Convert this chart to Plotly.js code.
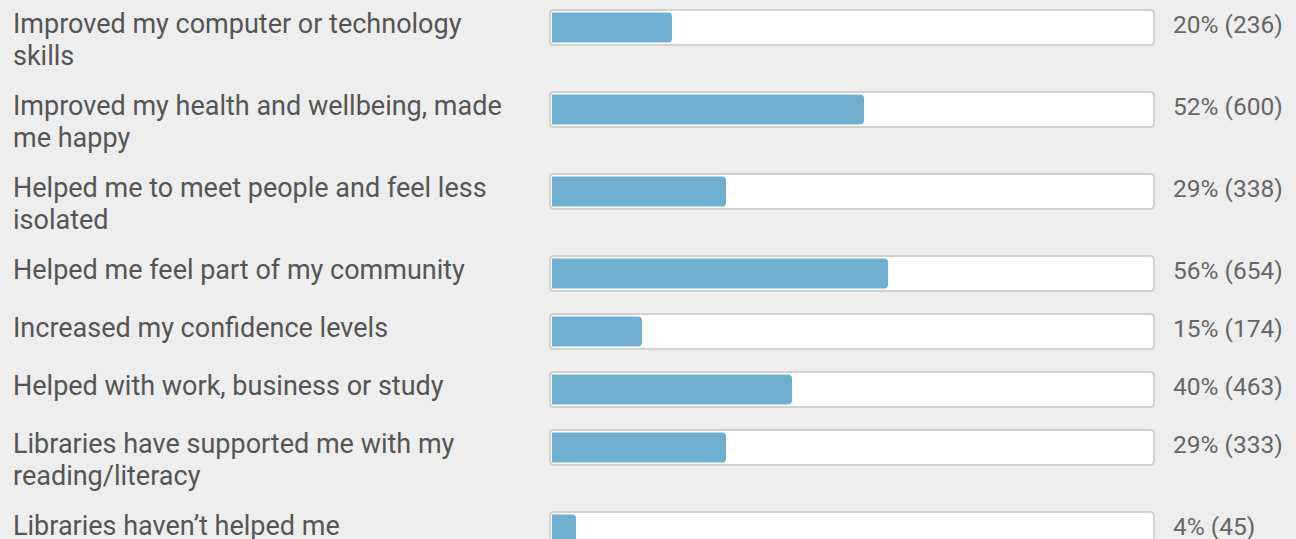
<!DOCTYPE html>
<html>
<head>
<meta charset="utf-8">
<script src="https://cdn.plot.ly/plotly-3.0.1.min.js"></script>
<style>
  html, body { margin: 0; padding: 0; background: #eeeeee; }
  #chart { width: 1296px; height: 539px; }
</style>
</head>
<body>
<div id="chart"></div>
<script>
// ---- data ----
const categories = [
  "Improved my computer or technology skills",
  "Improved my health and wellbeing, made me happy",
  "Helped me to meet people and feel less isolated",
  "Helped me feel part of my community",
  "Increased my confidence levels",
  "Helped with work, business or study",
  "Libraries have supported me with my reading/literacy",
  "Libraries haven\u2019t helped me"
];
const percents = [20, 52, 29, 56, 15, 40, 29, 4];
const counts = [236, 600, 338, 654, 174, 463, 333, 45];

// ---- layout helpers ----
const W = 1296, H = 539;
const zeroPx = 552, fullPx = 1152;            // pixel positions of 0 % and 100 %
const pxPerUnit = (fullPx - zeroPx) / 100;
const areaLeft = 540, areaRight = 1164;       // plot area (wider so boxes are not clipped)
const xRange = [(areaLeft - zeroPx) / pxPerUnit, (areaRight - zeroPx) / pxPerUnit];
const MAX_CHARS = 38;

function wrap(text, maxChars) {
  const words = text.split(" ");
  const lines = [];
  let cur = "";
  for (const w of words) {
    const cand = cur ? cur + " " + w : w;
    if (cand.length > maxChars && cur) { lines.push(cur); cur = w; }
    else cur = cand;
  }
  if (cur) lines.push(cur);
  return lines;
}

const wrapped = categories.map(c => wrap(c, MAX_CHARS));
const rowTops = [];
let t = 9;
wrapped.forEach(lines => { rowTops.push(t); t += lines.length > 1 ? 82 : 58; });
const centers = rowTops.map(v => v + 18.5);

function px2x(p) { return (p - zeroPx) / pxPerUnit; }
function roundRect(x0p, x1p, y0, y1, r) {
  const rx = r / pxPerUnit;
  const x0 = px2x(x0p), x1 = px2x(x1p);
  return "M" + (x0 + rx) + "," + y0 +
    " L" + (x1 - rx) + "," + y0 +
    " Q" + x1 + "," + y0 + " " + x1 + "," + (y0 + r) +
    " L" + x1 + "," + (y1 - r) +
    " Q" + x1 + "," + y1 + " " + (x1 - rx) + "," + y1 +
    " L" + (x0 + rx) + "," + y1 +
    " Q" + x0 + "," + y1 + " " + x0 + "," + (y1 - r) +
    " L" + x0 + "," + (y0 + r) +
    " Q" + x0 + "," + y0 + " " + (x0 + rx) + "," + y0 + " Z";
}

const shapes = rowTops.map(top => ({
  type: "path", xref: "x", yref: "y", layer: "below",
  path: roundRect(550, 1154, top + 1, top + 36, 4),
  fillcolor: "#ffffff",
  line: { color: "#d2d2d2", width: 2 }
}));

const valueTrace = {
  type: "bar", orientation: "h",
  y: centers,
  x: percents,
  width: 30,
  marker: { color: "#6fafcf", line: { width: 0 }, cornerradius: 4 },
  hoverinfo: "skip", showlegend: false
};

const annotations = [];
wrapped.forEach((lines, i) => {
  lines.forEach((ln, j) => {
    annotations.push({
      xref: "paper", yref: "y",
      x: (11 - areaLeft) / (areaRight - areaLeft),
      y: rowTops[i] - 3 + j * 32,
      xanchor: "left", yanchor: "top", align: "left",
      text: ln,
      showarrow: false,
      font: { family: "Roboto", size: 27, color: "#555555" }
    });
  });
  annotations.push({
    xref: "paper", yref: "y",
    x: (1171 - areaLeft) / (areaRight - areaLeft),
    y: rowTops[i] - 1,
    xanchor: "left", yanchor: "top", align: "left",
    text: percents[i] + "% (" + counts[i] + ")",
    showarrow: false,
    font: { family: "Roboto", size: 24.5, color: "#666666" }
  });
});

const layout = {
  width: W, height: H,
  margin: { l: areaLeft, r: W - areaRight, t: 0, b: 0, pad: 0 },
  paper_bgcolor: "#eeeeee", plot_bgcolor: "#eeeeee",
  barmode: "overlay",
  xaxis: { range: xRange, visible: false, fixedrange: true },
  yaxis: { range: [H, 0], visible: false, fixedrange: true },
  shapes: shapes,
  annotations: annotations,
  showlegend: false
};

Plotly.newPlot("chart", [valueTrace], layout, { displayModeBar: false, staticPlot: true });
</script>
</body>
</html>
